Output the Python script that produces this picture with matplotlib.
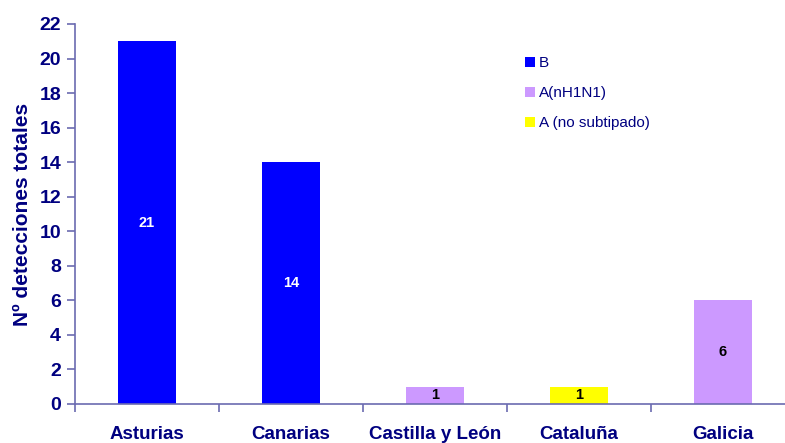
import matplotlib
matplotlib.use("Agg")
import matplotlib.pyplot as plt
import numpy as np
from matplotlib.patches import Patch

categories = ["Asturias", "Canarias", "Castilla y León", "Cataluña", "Galicia"]
series_names = ["B", "A(nH1N1)", "A (no subtipado)"]
b_vals = [21, 14, 0, 0, 0]
nh1n1_vals = [0, 0, 1, 0, 6]
nosub_vals = [0, 0, 0, 1, 0]
yticks = list(range(0, 23, 2))

colors = ["#0000FF", "#CC99FF", "#FFFF00"]
label_colors = ["white", "black", "black"]
navy = "#000080"
axis_col = "#6B6BB0"

plt.rcParams['font.family'] = ['Liberation Sans', 'DejaVu Sans']

fig = plt.figure(figsize=(7.85, 4.43), dpi=100)
ax = fig.add_axes([75/785, 39/443, 720/785, 380/443])

x = np.arange(len(categories))
bottom = np.zeros(len(categories))
for vals, col, lc in zip([b_vals, nh1n1_vals, nosub_vals], colors, label_colors):
    vals = np.array(vals, dtype=float)
    bars = ax.bar(x, vals, width=0.4, bottom=bottom, color=col, edgecolor='none')
    labels = [str(int(v)) if v > 0 else "" for v in vals]
    ax.bar_label(bars, labels=labels, label_type='center', color=lc,
                 fontsize=10.5, fontweight='bold')
    bottom += vals

ax.set_xlim(-0.5, len(categories) - 0.5)
ax.set_ylim(0, 22)
ax.set_yticks(yticks)
ax.set_yticklabels([str(t) for t in yticks], fontsize=14, fontweight='bold', color=navy)
ax.set_xticks(x)
ax.set_xticklabels(categories, fontsize=13.5, fontweight='bold', color=navy)
ax.set_xticks(np.arange(-0.5, len(categories), 1.0), minor=True)
ax.tick_params(axis='x', which='major', length=0, pad=16)
ax.tick_params(axis='x', which='minor', length=6, color=axis_col, width=1.2)
ax.tick_params(axis='y', length=6, color=axis_col, width=1.2, pad=4)

for s in ['top', 'right']:
    ax.spines[s].set_visible(False)
for s in ['left', 'bottom']:
    ax.spines[s].set_color(axis_col)
    ax.spines[s].set_linewidth(1.2)

ax.set_ylabel("Nº detecciones totales", fontsize=15, fontweight='bold', color=navy, labelpad=5)

handles = [Patch(facecolor=c, edgecolor='none') for c in colors]
leg = fig.legend(handles, series_names, loc='upper left', bbox_to_anchor=(519/785, 1 - 50/443),
                 frameon=False, fontsize=11, handlelength=0.65, handleheight=0.65,
                 handletextpad=0.25, labelspacing=1.05, borderaxespad=0)
for t in leg.get_texts():
    t.set_color(navy)

fig.savefig("out.png", dpi=100)
